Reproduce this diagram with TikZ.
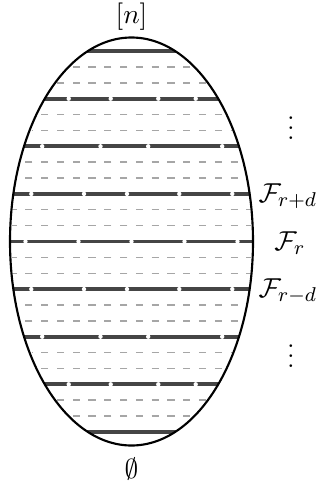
\documentclass[tikz,border=0pt]{standalone}
\begin{document}
\begin{tikzpicture}[x=0.4pt,y=-0.4pt,
  thickline/.style={line width=1.5pt, draw=black!73},
  thinline/.style={line width=0.55pt, draw=black!35, dash pattern=on 2.92pt off 3.4pt, dash phase=4.62pt},
  gapdot/.style={fill=white},
  lbl/.style={inner sep=0pt, font=\fontsize{11.2}{13}\selectfont}]
\useasboundingbox (0,0) rectangle (322,487);
\def\cx{131.5}\def\cy{241.5}\def\ea{121.5}\def\eb{204}
\begin{scope}
\clip (\cx,\cy) ellipse [x radius=\ea, y radius=\eb];
\foreach \k in {-4,...,3} {
  \foreach \j in {1,2} {
    \pgfmathsetmacro\yy{\cy+\k*47.6+\j*15.867}
    \pgfmathsetmacro\hh{\ea*sqrt(1-((\yy-\cy)/\eb)^2)-2}
    \draw[thinline] (\cx,\yy) -- ++(\hh,0);
    \draw[thinline] (\cx,\yy) -- ++(-\hh,0);
  }
}
\foreach \k in {-4,...,4} {
  \draw[thickline] (0,\cy+\k*47.6) -- (322,\cy+\k*47.6);
}
\foreach \k/\offs in {3/{-62.8,-20.8,26.8,64.2}, -3/{-62.8,-20.8,26.8,64.2},
                      2/{-89.3,-31,16.7,90.7}, -2/{-89.3,-31,16.7,90.7},
                      1/{-100.2,-47.5,-4.5,47.8,100.8}, -1/{-100.2,-47.5,-4.5,47.8,100.8},
                      0/{-106,-53,0,53,106}} {
  \foreach \o in \offs {
    \fill[gapdot] (\cx+\o,\cy-\k*47.6) circle [radius=2.2];
  }
}
\end{scope}
\draw[line width=0.85pt] (\cx,\cy) ellipse [x radius=\ea, y radius=\eb];
\node[lbl,anchor=base] (top) at (131.5,23) {$[n]$};
\node[lbl,anchor=base] (bot) at (131.5,478.5) {$\emptyset$};
\node[lbl,anchor=base] (vd1) at (291,139.5) {$\vdots$};
\node[lbl,anchor=base] (vd2) at (291,367.5) {$\vdots$};
\node[lbl,anchor=base west] (Frd) at (258,202) {$\mathcal{F}_{r+d}$};
\node[lbl,anchor=base] (Fr) at (290,250) {$\mathcal{F}_r$};
\node[lbl,anchor=base west] (Fmd) at (258,297) {$\mathcal{F}_{r-d}$};
\end{tikzpicture}
\end{document}
